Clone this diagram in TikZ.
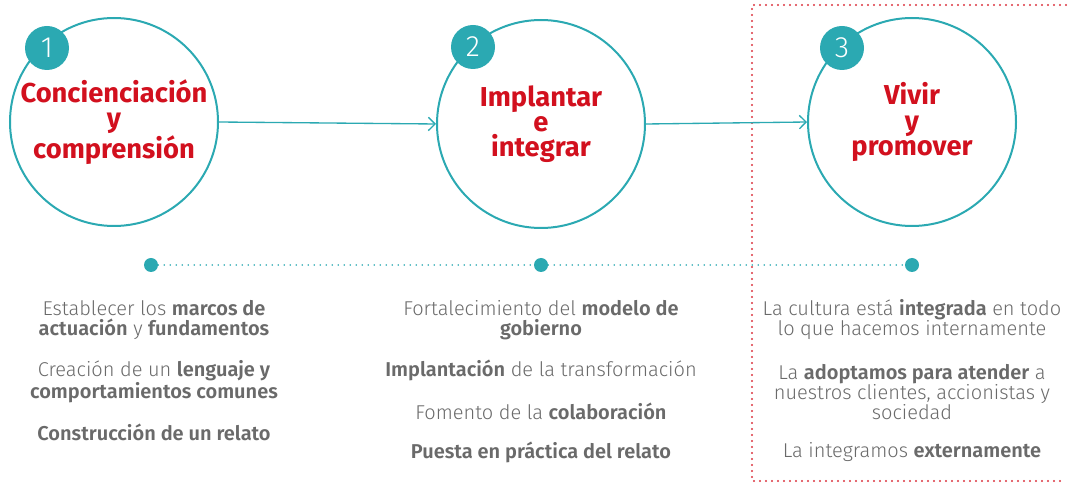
\documentclass[tikz,border=0pt]{standalone}
\usepackage{fontspec}
\setmainfont{Fira Sans Light}[BoldFont=Fira Sans SemiBold]
\newfontfamily\titlefont{Fira Sans}[BoldFont=Fira Sans Bold]
\usetikzlibrary{arrows.meta}
\definecolor{teal1}{HTML}{2BA9B2}
\definecolor{red1}{HTML}{D2101E}
\definecolor{redd}{HTML}{DC3540}
\definecolor{grey1}{HTML}{6A6A6A}
\tikzset{
  big/.style={circle,draw=teal1,line width=1.5pt,minimum size=156pt,inner sep=0pt,fill=white},
  badge/.style={circle,fill=teal1,minimum size=33pt,inner sep=0pt,text=white,font=\fontsize{22}{22}\selectfont},
  title/.style={text=red1,align=center,font=\titlefont\bfseries\fontsize{20.5}{19}\selectfont},
  flow/.style={teal1,line width=1pt,-{Straight Barb[length=5pt,width=10pt]}},
  dot/.style={circle,fill=teal1,minimum size=10.5pt,inner sep=0pt},
  dline/.style={teal1,line width=1.4pt,dash pattern=on 0pt off 4.5pt,line cap=round},
  rline/.style={redd,line width=1.7pt,dash pattern=on 0pt off 4.5pt,line cap=round},
  item/.style={text=grey1,align=center,font=\fontsize{15}{15}\selectfont,inner sep=0pt}
}
\begin{document}
\begin{tikzpicture}[x=0.75pt,y=-0.75pt]
\useasboundingbox (0,0) rectangle (1068,484);
% red dotted frame
\coordinate (f1) at (1066,5);
\coordinate (f2) at (752,5);
\coordinate (f3) at (752,481);
\coordinate (f4) at (1066,481);
\draw[rline] (f1) -- (f2) -- (f3) -- (f4);
% circles
\node[big] (c1) at (114,122) {};
\node[big] (c2) at (541,124) {};
\node[big] (c3) at (912,122) {};
\draw[flow] (c1.east) -- (c2.west);
\draw[flow] (c2.east) -- (c3.west);
\node[badge] (b1) at (47,48) {1};
\node[badge] (b2) at (473,47) {2};
\node[badge] (b3) at (842,48) {3};
\node[title] (t1) at (114,122) {Concienciación\\y\\comprensión};
\node[title] (t2) at (541,124) {Implantar\\e\\integrar};
\node[title] (t3) at (912,122) {Vivir\\y\\promover};
% timeline
\node[dot] (d1) at (151,265) {};
\node[dot] (d2) at (541,265) {};
\node[dot] (d3) at (912,265) {};
\draw[dline] (d1) -- (d2) -- (d3);
% column 1
\node[item] (a1) at (154,320) {Establecer los \textbf{marcos de}\\\textbf{actuación} y \textbf{fundamentos}};
\node[item] (a2) at (154,382) {Creación de un \textbf{lenguaje y}\\\textbf{comportamientos comunes}};
\node[item] (a3) at (154,432) {\textbf{Construcción de un relato}};
% column 2
\node[item] (m1) at (541,320) {Fortalecimiento del \textbf{modelo de}\\\textbf{gobierno}};
\node[item] (m2) at (541,370) {\textbf{Implantación} de la transformación};
\node[item] (m3) at (541,411) {Fomento de la \textbf{colaboración}};
\node[item] (m4) at (541,452) {\textbf{Puesta en práctica del relato}};
% column 3
\node[item] (r1) at (912,320) {La cultura está \textbf{integrada} en todo\\lo que hacemos internamente};
\node[item] (r2) at (912,392) {La \textbf{adoptamos para atender} a\\nuestros clientes, accionistas y\\sociedad};
\node[item] (r3) at (912,452) {La integramos \textbf{externamente}};
\end{tikzpicture}
\end{document}
